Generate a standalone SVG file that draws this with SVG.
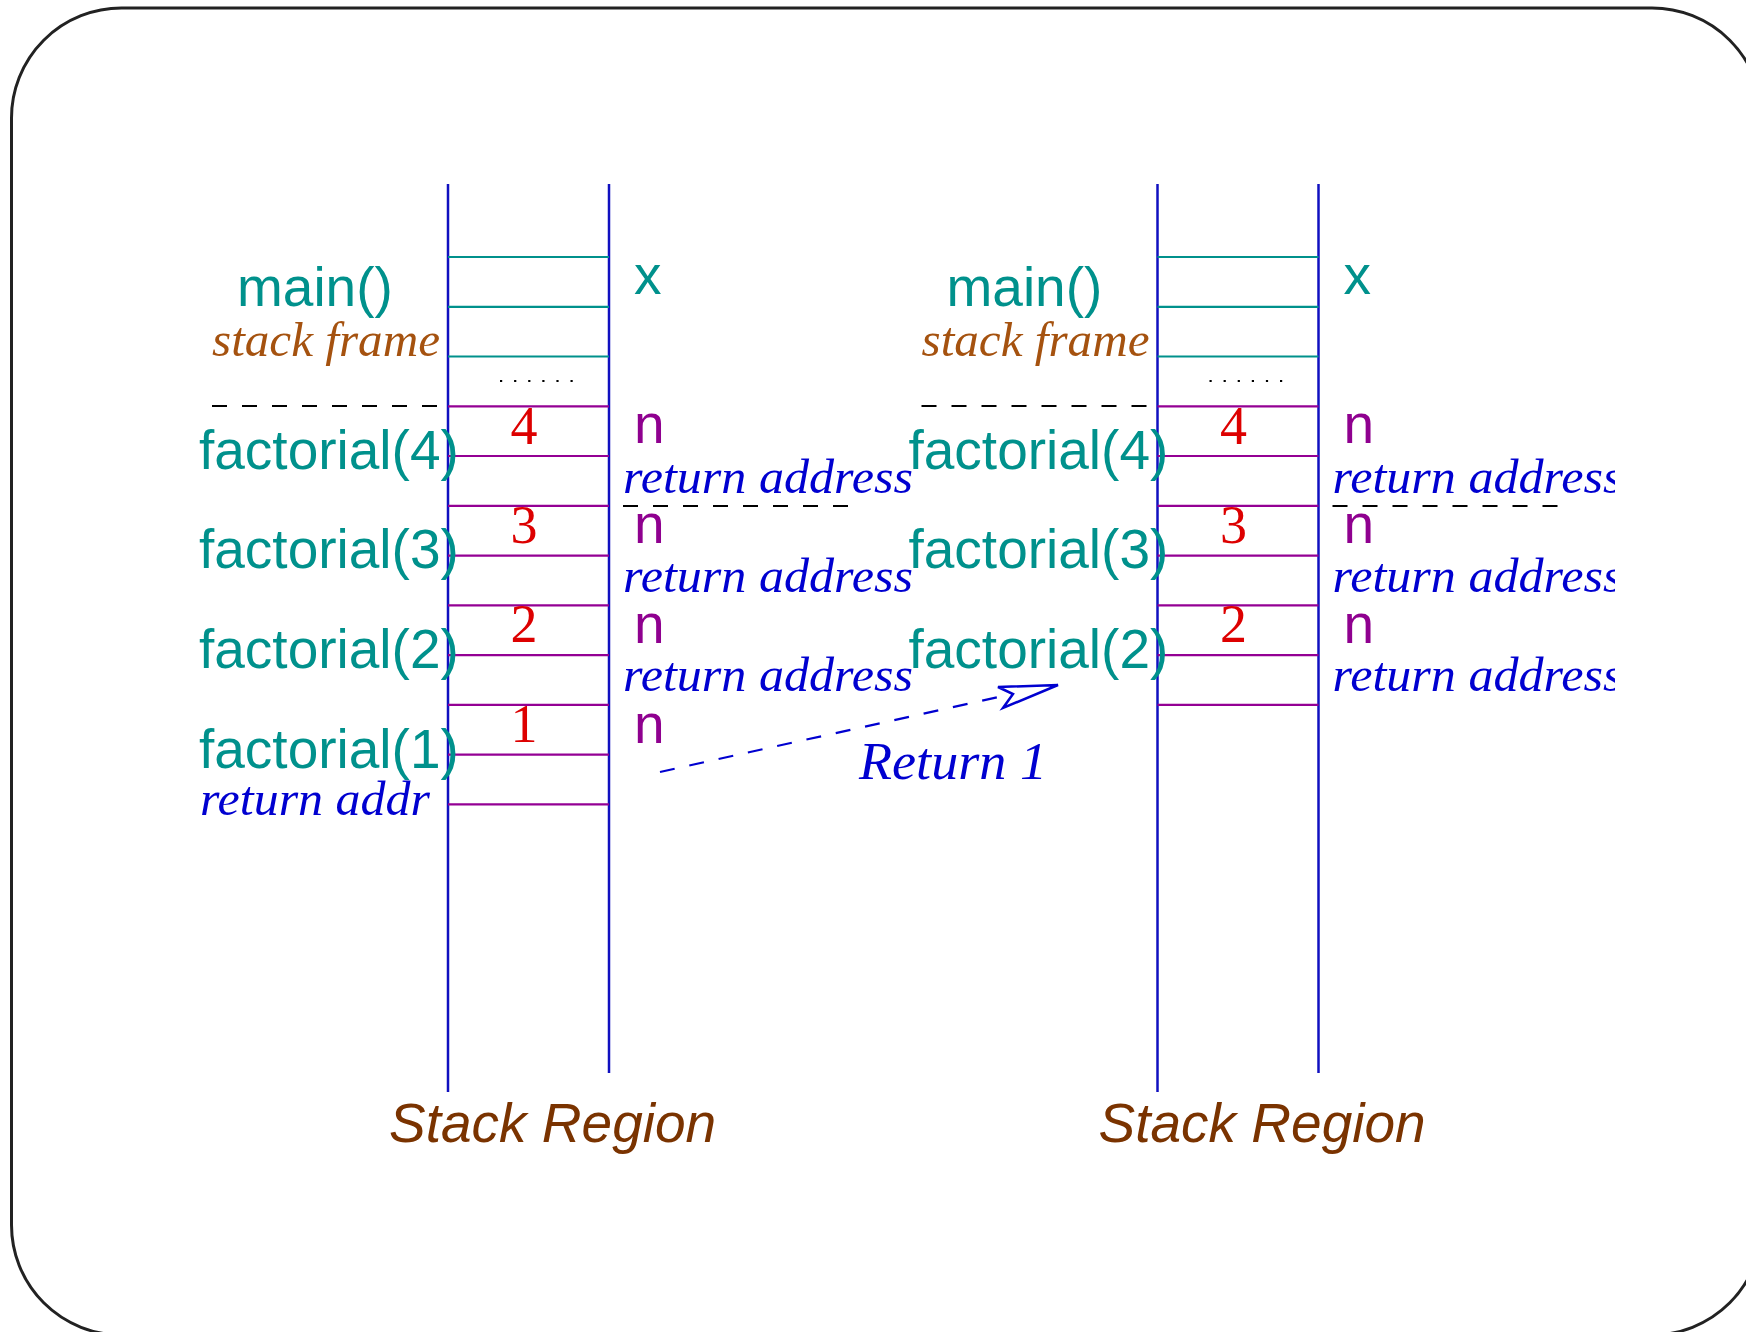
<svg xmlns="http://www.w3.org/2000/svg" width="1746" height="1332" viewBox="0 0 1746 1332">
  <style>
    .sans { font-family: "Liberation Sans", Arial, sans-serif; }
    .serif { font-family: "Liberation Serif", "Times New Roman", serif; }
    .fn { font-size: 55px; fill: #00918c; }
    .var-n { font-size: 55px; fill: #8f008f; }
    .var-x { font-size: 55px; fill: #00918c; }
    .num { font-size: 54px; fill: #dd0000; text-anchor: middle; }
    .ret { font-size: 49px; font-style: italic; fill: #0000d0; }
    .frame { font-size: 49px; font-style: italic; fill: #a5520f; }
    .region { font-size: 55px; font-style: italic; fill: #7a3300; }
    .wall { stroke: #1010c0; stroke-width: 2.5; }
    .slot-main { stroke: #00918c; stroke-width: 2.2; }
    .slot-fn { stroke: #940094; stroke-width: 2.2; }
    .sep { stroke: #000; stroke-width: 2; stroke-dasharray: 15 15; }
    .dots { stroke: #000; stroke-width: 2.2; stroke-dasharray: 2.2 11.9; }
    .flow { stroke: #0000d0; stroke-width: 2.2; stroke-dasharray: 15 15; fill: none; }
  </style>
  <defs>
    <clipPath id="rightClip">
      <rect x="0" y="0" width="1615" height="1332"/>
    </clipPath>
  </defs>

  <!-- slide frame -->
  <rect x="11.5" y="8" width="1750.5" height="1327" rx="110" ry="110" fill="none" stroke="#222" stroke-width="3"/>

  <!-- stack before the return of factorial(1) -->
  <g id="stack-before">
    <line class="wall" x1="448" y1="184" x2="448" y2="1092"/>
    <line class="wall" x1="609" y1="184" x2="609" y2="1073"/>
    <line class="slot-main" x1="448" y1="257" x2="609" y2="257"/>
    <line class="slot-main" x1="448" y1="306.8" x2="609" y2="306.8"/>
    <line class="slot-main" x1="448" y1="356.5" x2="609" y2="356.5"/>
    <line class="slot-fn" x1="448" y1="406.3" x2="609" y2="406.3"/>
    <line class="slot-fn" x1="448" y1="456" x2="609" y2="456"/>
    <line class="slot-fn" x1="448" y1="505.8" x2="609" y2="505.8"/>
    <line class="slot-fn" x1="448" y1="555.6" x2="609" y2="555.6"/>
    <line class="slot-fn" x1="448" y1="605.3" x2="609" y2="605.3"/>
    <line class="slot-fn" x1="448" y1="655.1" x2="609" y2="655.1"/>
    <line class="slot-fn" x1="448" y1="704.8" x2="609" y2="704.8"/>
    <line class="slot-fn" x1="448" y1="754.6" x2="609" y2="754.6"/>
    <line class="slot-fn" x1="448" y1="804.4" x2="609" y2="804.4"/>
    <line class="dots" x1="500" y1="381" x2="575" y2="381"/>
    <line class="sep" x1="212" y1="406" x2="440" y2="406"/>
    <line class="sep" x1="623" y1="506" x2="850" y2="506"/>

    <text class="sans fn" x="237" y="306">main()</text>
    <text class="serif frame" x="212" y="356" textLength="228" lengthAdjust="spacingAndGlyphs">stack frame</text>
    <text class="sans fn" x="199" y="469">factorial(4)</text>
    <text class="sans fn" x="199" y="568">factorial(3)</text>
    <text class="sans fn" x="199" y="668">factorial(2)</text>
    <text class="sans fn" x="199" y="768">factorial(1)</text>
    <text class="serif ret" x="200" y="815" textLength="230" lengthAdjust="spacingAndGlyphs">return addr</text>

    <text class="serif num" x="524" y="444">4</text>
    <text class="serif num" x="524" y="543">3</text>
    <text class="serif num" x="524" y="642">2</text>
    <text class="serif num" x="524" y="742">1</text>

    <text class="sans var-x" x="634" y="294">x</text>
    <text class="sans var-n" x="634" y="443">n</text>
    <text class="sans var-n" x="634" y="543">n</text>
    <text class="sans var-n" x="634" y="643">n</text>
    <text class="sans var-n" x="634" y="743">n</text>
    <text class="serif ret" x="623" y="493" textLength="290" lengthAdjust="spacingAndGlyphs">return address</text>
    <text class="serif ret" x="623" y="592" textLength="290" lengthAdjust="spacingAndGlyphs">return address</text>
    <text class="serif ret" x="623" y="691" textLength="290" lengthAdjust="spacingAndGlyphs">return address</text>

    <text class="sans region" x="389" y="1142">Stack Region</text>
  </g>

  <!-- stack after factorial(1) has returned -->
  <g id="stack-after">
    <line class="wall" x1="1157.5" y1="184" x2="1157.5" y2="1092"/>
    <line class="wall" x1="1318.5" y1="184" x2="1318.5" y2="1073"/>
    <line class="slot-main" x1="1157.5" y1="257" x2="1318.5" y2="257"/>
    <line class="slot-main" x1="1157.5" y1="306.8" x2="1318.5" y2="306.8"/>
    <line class="slot-main" x1="1157.5" y1="356.5" x2="1318.5" y2="356.5"/>
    <line class="slot-fn" x1="1157.5" y1="406.3" x2="1318.5" y2="406.3"/>
    <line class="slot-fn" x1="1157.5" y1="456" x2="1318.5" y2="456"/>
    <line class="slot-fn" x1="1157.5" y1="505.8" x2="1318.5" y2="505.8"/>
    <line class="slot-fn" x1="1157.5" y1="555.6" x2="1318.5" y2="555.6"/>
    <line class="slot-fn" x1="1157.5" y1="605.3" x2="1318.5" y2="605.3"/>
    <line class="slot-fn" x1="1157.5" y1="655.1" x2="1318.5" y2="655.1"/>
    <line class="slot-fn" x1="1157.5" y1="704.8" x2="1318.5" y2="704.8"/>
    <line class="dots" x1="1209.5" y1="381" x2="1284.5" y2="381"/>
    <line class="sep" x1="921.5" y1="406" x2="1149.5" y2="406"/>
    <line class="sep" x1="1332.5" y1="506" x2="1559.5" y2="506"/>

    <text class="sans fn" x="946.5" y="306">main()</text>
    <text class="serif frame" x="921.5" y="356" textLength="228" lengthAdjust="spacingAndGlyphs">stack frame</text>
    <text class="sans fn" x="908.5" y="469">factorial(4)</text>
    <text class="sans fn" x="908.5" y="568">factorial(3)</text>
    <text class="sans fn" x="908.5" y="668">factorial(2)</text>

    <text class="serif num" x="1233.5" y="444">4</text>
    <text class="serif num" x="1233.5" y="543">3</text>
    <text class="serif num" x="1233.5" y="642">2</text>

    <text class="sans var-x" x="1343.5" y="294">x</text>
    <text class="sans var-n" x="1343.5" y="443">n</text>
    <text class="sans var-n" x="1343.5" y="543">n</text>
    <text class="sans var-n" x="1343.5" y="643">n</text>
    <g clip-path="url(#rightClip)">
      <text class="serif ret" x="1332.5" y="493" textLength="290" lengthAdjust="spacingAndGlyphs">return address</text>
      <text class="serif ret" x="1332.5" y="592" textLength="290" lengthAdjust="spacingAndGlyphs">return address</text>
      <text class="serif ret" x="1332.5" y="691" textLength="290" lengthAdjust="spacingAndGlyphs">return address</text>
    </g>

    <text class="sans region" x="1098.5" y="1142">Stack Region</text>
  </g>

  <!-- return value flowing back to the caller -->
  <g id="connectors">
    <line class="flow" x1="660" y1="772" x2="1012" y2="694"/>
    <polygon points="1058,685 998,687 1013,694 1003,708" fill="#fff" stroke="#0000d0" stroke-width="2.5" stroke-linejoin="miter"/>
    <text class="serif ret" x="859" y="779" style="font-size:52px" textLength="188" lengthAdjust="spacingAndGlyphs">Return 1</text>
  </g>
</svg>
